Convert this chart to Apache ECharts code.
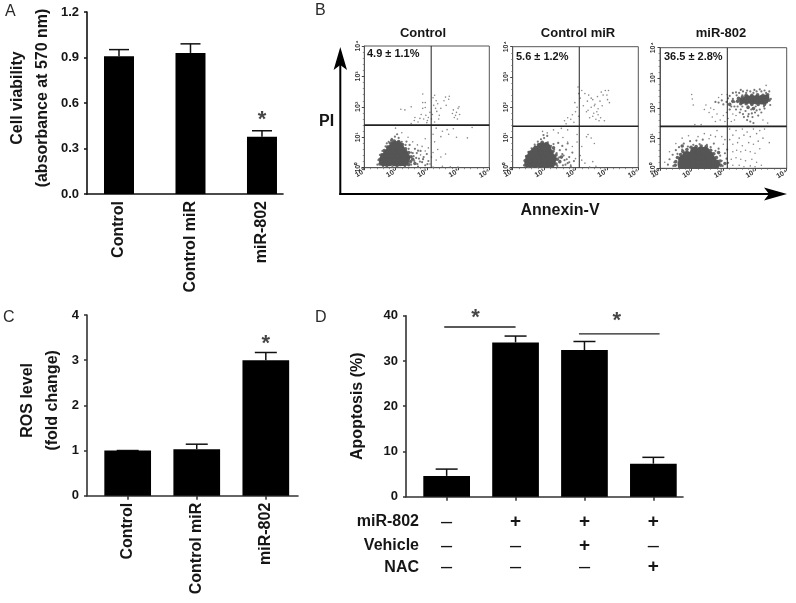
<!DOCTYPE html>
<html><head><meta charset="utf-8">
<style>html,body{margin:0;padding:0;background:#fff}#c{width:796px;height:603px}</style>
<script src="https://cdn.jsdelivr.net/npm/echarts@6/dist/echarts.min.js"></script>
</head><body><div id="c"></div>
<script>
// Panel A
const viabilityCategories = ['Control','Control miR','miR-802'];
const viabilityValues = [0.908,0.93,0.377];
const viabilityUpper = [0.952,0.99,0.417];
// Panel C
const rosCategories = ['Control','Control miR','miR-802'];
const rosValues = [1.0,1.03,3.0];
const rosUpper = [1.0,1.14,3.17];
// Panel D
const apoptosisValues = [4.6,34.1,32.4,7.3];
const apoptosisUpper = [6.1,35.5,34.3,8.7];
const rowNames = ['miR-802','Vehicle','NAC'];
const rowMiR = ['-','+','+','+'];
const rowVehicle = ['-','-','+','-'];
const rowNAC = ['-','-','-','+'];
const bracketLeft = [[-0.035,37.5],[1.0,37.5]];
const bracketRight = [[1.92,36],[3.09,36]];
// Panel B: flow cytometry events, log10 fluorescence (Annexin-V, PI), read by eye
const decadeLabels = ['10\u2070','10\u00b9','10\u00b2','10\u00b3','10\u2074'];
const panelTitles = ['Control','Control miR','miR-802'];
const panelStats = ['4.9 \u00b1 1.1%','5.6 \u00b1 1.2%','36.5 \u00b1 2.8%'];
const gates = [[2.14,1.40],[2.12,1.37],[2.125,1.39]];

const controlDense = [[.62,.2],[.8,.2],[.98,.2],[1.15,.2],[1.28,.2],[.65,.33],[.82,.33],[1,.33],[1.17,.33],[1.32,.33],[.75,.46],[.92,.46],[1.08,.46],[1.25,.46],[.85,.6],[1,.6],[1.15,.6],[.97,.72],[1.08,.72]];
const controlFringe = [[.5,.12],[.5,.28],[.56,.42],[.64,.56],[.74,.68],[.84,.8],[.96,.88],[1.1,.86],[1.22,.76],[1.32,.62],[1.42,.5],[1.5,.36],[1.48,.2],[1.42,.1],[.72,.07],[1.05,.07],[.88,.9],[1.2,.66],[1.55,.28],[1.62,.14]];
const controlHalo = [[.42,.1],[.45,.25],[.5,.42],[.58,.55],[.68,.7],[.78,.85],[.88,.95],[.98,1.02],[1.1,.98],[1.2,.85],[1.32,.75],[1.42,.62],[1.5,.5],[1.58,.38],[1.6,.22],[1.5,.1],[1.7,.12],[1.75,.3],[1.85,.18],[1.68,.48],[1.9,.35],[1.95,.08],[2.05,.22],[2,.45],[1.8,.55],[1.3,.04],[.9,.04],[.6,.03],[1.62,.62],[1.45,.75],[1.72,.04],[1.66,.32],[1.78,.2],[1.55,.48],[1.72,.56],[1.35,.86],[1.05,1.1],[.72,.8],[1.88,.28],[2.02,.12]];
const controlSparse = [[1.17,1.92],[1.3,1.9],[1.5,2],[1.6,1.55],[1.5,1.45],[1.62,1.65],[1.72,1.5],[1.78,1.62],[1.82,1.75],[1.87,2.42],[1.87,2.14],[1.95,2.14],[1.87,1.95],[1.95,1.98],[1.9,1.6],[1.97,1.72],[2.02,1.55],[2.05,1.65],[2,1.48],[2.1,1.82],[2.15,1.6],[2.18,1.75],[2.2,2.3],[2.25,2.38],[2.3,2.2],[2.22,2.05],[2.28,1.95],[2.35,2.1],[2.32,1.85],[2.4,1.72],[2.38,1.6],[2.25,1.5],[2.45,1.95],[2.55,2.2],[2.6,2.32],[2.7,2.25],[2.62,2.05],[2.72,2.35],[2.82,1.78],[2.88,1.65],[2.95,1.82],[3,1.95],[3.03,2],[2.92,1.72],[2.98,1.6],[3.05,1.75],[2.85,1.9],[2.3,1.3],[2.5,1.2],[2.65,1.25],[2.7,1.1],[2.2,1.1],[2.95,1],[3.3,.98],[2.45,1.02],[2.85,1.28],[3.45,1.32],[1,1.3],[1.2,1.15],[1.4,1],[1.55,.85],[1.7,.75],[1.85,.7],[2.05,.65],[1.95,.95],[2.2,.5],[2.3,.25],[2.35,.6],[2.25,.85],[2.5,.05],[2.75,.03],[3,.02],[2.2,.02],[2.45,.35],[2.6,.45],[2.1,.12],[2.15,.35],[1.95,.55],[1.8,.42]];

const miRDense = [[.52,.16],[.7,.16],[.88,.16],[1.06,.16],[1.22,.16],[.55,.3],[.73,.3],[.91,.3],[1.09,.3],[1.25,.3],[.62,.43],[.8,.43],[.98,.43],[1.16,.43],[.76,.56],[.93,.56],[1.1,.56],[.92,.68],[1.05,.68]];
const miRFringe = [[.4,.08],[.4,.24],[.46,.38],[.54,.5],[.64,.6],[.72,.68],[.82,.76],[.94,.84],[1.08,.8],[1.18,.68],[1.28,.54],[1.38,.42],[1.42,.28],[1.38,.12],[.62,.05],[.95,.05],[1.2,.05],[1.5,.2],[1.55,.35],[1.3,.66]];
const miRHalo = [[.36,.08],[.38,.22],[.42,.38],[.5,.52],[.6,.64],[.7,.76],[.8,.86],[.9,.94],[1,.98],[1.12,.84],[1.22,.72],[1.32,.6],[1.4,.48],[1.48,.34],[1.5,.18],[1.42,.06],[1.6,.08],[1.65,.25],[1.75,.15],[1.58,.45],[1.8,.35],[1.85,.05],[1.95,.22],[1.9,.5],[1.7,.6],[1.2,.02],[.8,.03],[.5,.02],[1.45,.82],[1.58,.72],[1.75,.8],[1.1,1.05],[1.62,.4],[1.72,.28],[1.5,.58],[1.3,.78],[.98,1.08],[1.8,.18],[1.68,.1]];
const miRSparse = [[1.65,1.55],[1.75,1.65],[1.7,1.45],[1.85,1.6],[1.9,1.75],[1.95,1.5],[2,1.85],[2.05,2],[1.98,2.15],[2.1,1.7],[2.08,2.67],[2.1,2.45],[2.15,2.3],[2.2,2.55],[2.25,2.05],[2.3,2.45],[2.35,1.85],[2.38,2.2],[2.42,2.4],[2.45,1.65],[2.5,2],[2.55,2.25],[2.58,1.8],[2.62,2.1],[2.65,1.6],[2.7,2.35],[2.72,1.95],[2.75,1.55],[2.78,2.2],[2.82,2.5],[2.85,2.05],[2.88,2.4],[2.92,1.55],[2.95,2.55],[3,2.4],[3.02,2.25],[3.05,2.55],[3.08,2.15],[2.6,2.05],[2.68,1.85],[2.72,1.75],[2.4,1.9],[2.55,1.7],[2.8,1.65],[2.5,2.3],[1.55,1.3],[1.75,1.25],[1.3,1.25],[1.1,1.15],[.95,1.2],[1.45,1.15],[1.6,1],[1.75,.85],[1.9,.7],[2.05,1.1],[2.4,1.1],[2.2,.7],[2.15,.4],[2.3,.15],[2.55,.2],[2.6,.8],[2,.3],[1.85,.1],[2.35,1.02],[2.5,.98],[2.05,.85],[2.2,.25],[2.45,.02],[2.65,.05]];

const miR802Dense = [[.7,.14],[.88,.14],[1.06,.14],[1.24,.14],[1.42,.14],[1.6,.14],[1.75,.14],[.72,.28],[.9,.28],[1.08,.28],[1.26,.28],[1.44,.28],[1.62,.28],[.85,.42],[1.03,.42],[1.21,.42],[1.39,.42],[1.55,.42],[1.1,.56],[1.28,.56],[1.42,.56]];
const miR802Fringe = [[.48,.1],[.5,.22],[.55,.36],[.65,.46],[.72,.56],[.85,.62],[.98,.7],[1.14,.72],[1.3,.74],[1.46,.72],[1.6,.6],[1.7,.48],[1.78,.36],[1.9,.24],[1.92,.1],[.62,.05],[.95,.04],[1.3,.04],[1.65,.04],[2.05,.16],[.7,.74],[1.85,.52],
  [2.45,2.22],[2.48,2.32],[2.6,2.36],[2.72,2.42],[2.9,2.42],[3.08,2.44],[3.25,2.42],[3.4,2.44],[3.44,2.26],[3.3,2.12],[3.1,2.12],[2.9,2.12],[2.72,2.14],[2.55,2.14],[2.3,2.22],[2.2,2.12],[2.78,2.02],[2.95,1.98]];
const miR802Cluster = [[2.6,2.24],[2.75,2.24],[2.9,2.22],[3.05,2.22],[3.2,2.22],[3.32,2.24],[2.75,2.32],[2.9,2.32],[3.05,2.32],[3.2,2.32],[3.35,2.34]];
const miR802Halo = [[.25,.12],[.3,.3],[.4,.45],[.45,.2],[.42,.08],[.5,.6],[.6,.7],[.7,.62],[.75,.82],[.88,.72],[.95,.9],[1.05,.78],[1.15,.92],[1.25,.8],[1.35,.95],[1.48,.78],[1.6,.7],[1.7,.82],[1.75,.58],[1.85,.65],[1.9,.42],[1.95,.25],[1.98,.08],[2.05,.5],[2.1,.32],[2.15,.18],[2.12,.62],[1.85,.25],[1.9,.12],[.55,.48],[.62,.08],[2.1,2.2],[2.2,2.4],[2.25,2.05],[2.3,2.5],[2.35,2.2],[2.42,2.42],[2.45,2.05],[2.5,2.5],[2.55,1.95],[2.6,2.05],[2.62,2.55],[2.7,1.9],[2.72,2.5],[2.78,2.05],[2.8,1.8],[2.85,2.55],[2.88,1.95],[2.92,1.7],[2.95,2.5],[3,1.85],[3.02,2.05],[3.05,2.55],[3.1,1.75],[3.15,1.95],[3.2,2.55],[3.28,2.05],[3.35,2.5],[3.45,2.55],[3.5,2.3],[3.48,2.1],[2.65,1.7],[2.75,1.6],[2.85,1.55],[2.95,1.5],[1.75,2.2],[1.85,2.18],[1.95,2.25],[2,2.12],[2.3,2.3],[2.45,2.25],[2.15,2.32],[2.6,2.42],[2.52,1.85],[2.62,1.8],[2.78,1.72],[2.9,1.82],[3.05,1.92],[3.2,1.85],[3.3,1.98],[2.4,1.95],[2.35,2.05],[2.2,1.95],[2.75,2.58],[2.98,2.6],[3.15,2.62],[3.3,2.58],[2.55,2.6],[2.4,2.52]];
const miR802Sparse = [[1,2.45],[1.02,2.3],[1.05,2.1],[1.4,1.95],[1.45,2.1],[1.55,1.85],[1.6,2],[1.65,1.7],[1.7,1.95],[1.75,1.55],[1.8,1.8],[1.85,2.35],[1.9,1.6],[1.95,2.45],[2,1.75],[2.05,1.55],[2.1,1.85],[2.12,2.45],[2.15,1.65],[2.2,1.95],[2.25,1.55],[2.3,1.8],[2.35,1.6],[2.4,1.75],[3.35,2.75],[3.4,1.5],[3.25,1.6],[1.3,1.45],[1.1,1.45],[2.2,1.3],[2.3,1.1],[2.4,1.25],[2.5,1],[2.6,1.3],[2.65,1.1],[2.75,1.2],[2.85,1.05],[2.95,1.3],[3.05,1.15],[3.15,1.25],[3.25,1],[3.3,1.3],[3.1,.9],[2.95,.8],[2.8,.85],[2.6,.75],[2.45,.85],[2.3,.8],[2.2,.95],[2.3,.55],[2.42,.6],[2.55,.55],[2.7,.6],[2.85,.55],[3,.5],[3.15,.65],[3.45,.85],[2.25,.3],[2.4,.35],[2.55,.3],[2.7,.25],[2.9,.3],[3.05,.2],[2.3,.1],[2.5,.1],[2.65,.05],[2.85,.08],[3,.05],[3.2,.1],[1.2,1.05],[1.4,1.15],[1.6,1.1],[1.8,1.25],[1.95,1.05],[2.05,.95],[.9,1.08],[.7,1],[.5,.82],[.3,.55],[.15,.2],[1.75,1.05],[1.55,.98],[2,.8]];

const denseSets = [controlDense, miRDense, miR802Dense];
const fringeSets = [controlFringe, miRFringe, miR802Fringe];
const haloSets = [controlHalo, miRHalo, miR802Halo];
const sparseSets = [controlSparse, miRSparse, miR802Sparse];

const FONT = '"Liberation Sans", Arial, sans-serif';
const INK = '#161616';
const boldText = (size) => ({fontFamily:FONT,fontWeight:'bold',fontSize:size,color:INK});

const slots = (n) => Array.from({length:n},(_,i)=>i);

function errorSeries(xi, yi, lows, highs, capHalf, lineW){
  return {type:'custom',xAxisIndex:xi,yAxisIndex:yi,silent:true,clip:false,
    data:lows.map((v,i)=>[i,v,highs[i]]),
    encode:{x:0,y:[1,2]},
    renderItem(p,api){
      const a=api.coord([api.value(0),api.value(1)]), b=api.coord([api.value(0),api.value(2)]);
      const st={stroke:'#111',lineWidth:lineW};
      return {type:'group',children:[
        {type:'line',shape:{x1:a[0],y1:a[1],x2:b[0],y2:b[1]},style:st},
        {type:'line',shape:{x1:b[0]-capHalf,y1:b[1],x2:b[0]+capHalf,y2:b[1]},style:st}
      ]};
    }};
}
function barSeries(xi, yi, vals, w){
  return {type:'bar',xAxisIndex:xi,yAxisIndex:yi,barWidth:w,silent:true,
    itemStyle:{color:'#000'},data:vals.map((v,i)=>[i,v])};
}
function starSeries(xi, yi, pts, size){
  return {type:'scatter',xAxisIndex:xi,yAxisIndex:yi,symbolSize:1,silent:true,clip:false,
    itemStyle:{color:'rgba(0,0,0,0)'},data:pts,
    label:{show:true,position:'inside',formatter:'*',fontFamily:FONT,fontWeight:'bold',fontSize:size,color:INK}};
}
function valueY(gridIndex,max,interval,name,gap,labelFmt,color,pad){
  return {type:'value',gridIndex,min:0,max,interval,name,nameLocation:'middle',nameRotate:90,nameGap:gap,
    nameTextStyle:{...boldText(16),lineHeight:25,padding:pad||0},
    axisLine:{show:true,onZero:false,lineStyle:{color,width:1.6}},
    axisTick:{show:true,length:3,lineStyle:{color,width:1.5}},
    splitLine:{show:false},
    axisLabel:{...boldText(13),margin:8,formatter:labelFmt}};
}
function slotX(gridIndex,min,max,n,labels,showTicks,color){
  return {type:'value',gridIndex,min,max,containShape:false,
    axisLine:{show:true,onZero:false,lineStyle:{color,width:1.6}},
    axisTick:{show:showTicks,length:4,customValues:slots(n),lineStyle:{color,width:1.5}},
    splitLine:{show:false},
    axisLabel:labels?{...boldText(16),rotate:90,margin:7,customValues:slots(n),formatter:v=>labels[v]}:{show:false,customValues:slots(n)}};
}
function rowAxis(gridIndex,min,max,row,offset){
  return {type:'value',gridIndex,min,max,position:'bottom',offset,containShape:false,
    axisLine:{show:false},axisTick:{show:false},splitLine:{show:false},
    axisLabel:{margin:0,customValues:slots(row.length),formatter:v=>row[v]==='+'?'{p|+}':'{m|\u2013}',
      rich:{p:{fontFamily:FONT,fontWeight:'bold',fontSize:19,color:INK},m:{fontFamily:FONT,fontSize:20,color:INK}}}};
}

const grids = [
  {left:87,top:12,width:196,height:182,outerBoundsMode:'none'},
  {left:364.3,top:46,width:125,height:121.7,show:true,borderColor:'#555',borderWidth:1,backgroundColor:'#fff',outerBoundsMode:'none'},
  {left:512.7,top:46.7,width:125.6,height:121,show:true,borderColor:'#555',borderWidth:1,backgroundColor:'#fff',outerBoundsMode:'none'},
  {left:660,top:47.7,width:126.7,height:120.6,show:true,borderColor:'#555',borderWidth:1,backgroundColor:'#fff',outerBoundsMode:'none'},
  {left:87,top:315,width:211,height:180.7,outerBoundsMode:'none'},
  {left:406,top:315.7,width:277,height:181,outerBoundsMode:'none'}
];
const flowX = i => ({type:'value',gridIndex:i,min:0,max:4,interval:1,
  axisLine:{show:true,lineStyle:{color:'#555',width:1}},
  axisTick:{show:true,length:2.5,lineStyle:{color:'#444',width:1}},
  minorTick:{show:true,splitNumber:5,length:1.5,lineStyle:{color:'#666',width:.7}},
  splitLine:{show:false},
  axisLabel:{fontFamily:FONT,fontSize:7,fontWeight:'bold',color:'#333',rotate:30,margin:3,formatter:v=>decadeLabels[v]}});
const flowY = i => ({type:'value',gridIndex:i,min:0,max:4,interval:1,
  axisLine:{show:true,lineStyle:{color:'#555',width:1}},
  axisTick:{show:true,length:2.5,lineStyle:{color:'#444',width:1}},
  minorTick:{show:true,splitNumber:5,length:1.5,lineStyle:{color:'#666',width:.7}},
  splitLine:{show:false},
  axisLabel:{fontFamily:FONT,fontSize:7,fontWeight:'bold',color:'#333',rotate:90,margin:3,formatter:v=>decadeLabels[v]}});

const xAxes = [
  slotX(0,-0.4476,2.294,3,viabilityCategories,false,'#111'),
  flowX(1),flowX(2),flowX(3),
  slotX(4,-0.589,2.466,3,rosCategories,true,'#333'),
  slotX(5,-0.59,3.43,4,null,true,'#333'),
  rowAxis(5,-0.59,3.43,rowMiR,16),
  rowAxis(5,-0.59,3.43,rowVehicle,39.5),
  rowAxis(5,-0.59,3.43,rowNAC,61)
];
const yAxes = [
  valueY(0,1.2,0.3,'Cell viability\n(absorbance at 570 nm)',31.5,v=>v.toFixed(1),'#111',[0,0,0,10]),
  flowY(1),flowY(2),flowY(3),
  valueY(4,4,1,'ROS level\n(fold change)',22,v=>String(v),'#333',[0,0,0,10]),
  valueY(5,40,10,'Apoptosis (%)',35.5,v=>String(v),'#333')
];

const series = [
  barSeries(0,0,viabilityValues,30), errorSeries(0,0,viabilityValues,viabilityUpper,10,1.5),
  starSeries(0,0,[[2,0.49]],22),
  barSeries(4,4,rosValues,46.7), errorSeries(4,4,rosValues,rosUpper,11,1.5),
  starSeries(4,4,[[2,3.37]],22),
  barSeries(5,5,apoptosisValues,46.7), errorSeries(5,5,apoptosisValues,apoptosisUpper,11,1.5),
  {type:'line',xAxisIndex:5,yAxisIndex:5,data:bracketLeft,symbol:'none',silent:true,lineStyle:{color:'#222',width:1.3}},
  {type:'line',xAxisIndex:5,yAxisIndex:5,data:bracketRight,symbol:'none',silent:true,lineStyle:{color:'#222',width:1.3}},
  starSeries(5,5,[[0.42,39.6],[2.47,38.8]],22)
];
[0,1,2].forEach(k=>{
  const g=k+1;
  const pts=(data,size,color)=>({type:'scatter',xAxisIndex:g,yAxisIndex:g,data,symbolSize:size,silent:true,
    itemStyle:{color,opacity:1},large:false});
  series.push(pts(sparseSets[k],1.6,'#888'));
  series.push(pts(haloSets[k],2.2,'#777'));
  series.push(pts(fringeSets[k],3.6,'#666'));
  series.push(pts(denseSets[k],9.5,'#555'));
  if(k===2) series.push(pts(miR802Cluster,6.5,'#555'));
  const gate=(data,w)=>({type:'line',xAxisIndex:g,yAxisIndex:g,data,symbol:'none',silent:true,lineStyle:{color:'#222',width:w}});
  series.push(gate([[gates[k][0],0],[gates[k][0],4]],1));
  series.push(gate([[0,gates[k][1]],[4,gates[k][1]]],1.6));
});

const text=(x,y,t,style,extra)=>({type:'text',x,y,style:{text:t,verticalAlign:'middle',...style,...(extra||{})}});
const B=(size,align)=>({fontFamily:FONT,fontWeight:'bold',fontSize:size,fill:INK,align:align||'left'});
const R=(size)=>({fontFamily:FONT,fontSize:size,fill:'#2a2a2a',align:'left'});
const graphics=[
  text(5,12,'A',R(16)), text(315,11,'B',R(16)), text(3,318,'C',R(16)), text(315,318,'D',R(16)),
  text(423,33,panelTitles[0],B(13,'center')), text(578,33,panelTitles[1],B(13,'center')), text(721,33,panelTitles[2],B(13,'center')),
  text(367,54,panelStats[0],B(11)), text(516,57,panelStats[1],B(11)), text(664,57,panelStats[2],B(11)),
  text(319,122,'PI',B(16)), text(560,211,'Annexin-V',B(16,'center')),
  text(419,522,rowNames[0],B(16,'right')), text(419,545.7,rowNames[1],B(16,'right')), text(419,567.3,rowNames[2],B(16,'right')),
  {type:'line',shape:{x1:340.3,y1:195,x2:340.3,y2:62},style:{stroke:'#000',lineWidth:2}},
  {type:'line',shape:{x1:339.3,y1:194,x2:772,y2:194},style:{stroke:'#000',lineWidth:2}},
  {type:'polygon',shape:{points:[[340.3,47],[347,70],[340.3,65],[333.6,70]]},style:{fill:'#000'}},
  {type:'polygon',shape:{points:[[787,194],[764,187.5],[769,194],[764,200.5]]},style:{fill:'#000'}}
];

const chart=echarts.init(document.getElementById('c'),null,{renderer:'canvas'});
chart.setOption({animation:false,backgroundColor:'#fff',grid:grids,xAxis:xAxes,yAxis:yAxes,series,graphic:{elements:graphics}});
</script></body></html>
